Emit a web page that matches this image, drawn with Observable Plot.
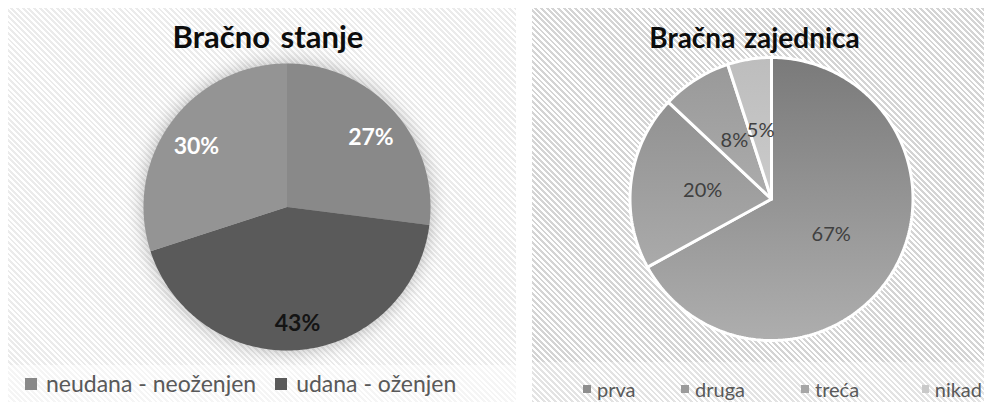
<!DOCTYPE html>
<html>
<head>
<meta charset="utf-8">
<script src="https://cdn.jsdelivr.net/npm/d3@7"></script>
<script src="https://cdn.jsdelivr.net/npm/@observablehq/plot@0.6"></script>
<style>
html,body{margin:0;padding:0;background:#fff;width:984px;height:402px;overflow:hidden;font-family:Lato,"Open Sans",sans-serif;}
.panel{position:absolute;overflow:hidden;}
#p1{left:8px;top:8px;width:508px;height:394px;background:repeating-linear-gradient(45deg,#ebebeb 0 2px,#fff 2px 4px);}
#p2{left:532px;top:8px;width:452px;height:394px;background:repeating-linear-gradient(45deg,#d4d4d4 0 2px,#fff 2px 4px);}
#p1 .legbg{position:absolute;left:0;right:0;top:357px;bottom:0;background:repeating-linear-gradient(45deg,#f5f5f5 0 2px,#fff 2px 4px);}
#p2 .legbg{position:absolute;left:0;right:0;top:354px;bottom:0;background:repeating-linear-gradient(45deg,#e3e3e3 0 2px,#fff 2px 4px);}
.panel svg{position:absolute;left:0;top:0;}
.title{position:absolute;text-align:center;font-weight:bold;color:#0d0d0d;white-space:nowrap;}
#p1 .title{font-size:31px;line-height:31px;word-spacing:3px;}
#p2 .title{font-size:28px;line-height:28px;word-spacing:2px;}
.legend{position:absolute;display:flex;align-items:center;white-space:nowrap;color:#595959;}
.legend .item{display:flex;align-items:center;}
.legend .sw{display:inline-block;}
#p1 .legend{font-size:23px;line-height:23px;left:17px;top:364px;gap:19px;}
#p1 .sw{width:12px;height:12px;margin-right:9px;}
#p2 .legend{font-size:20px;line-height:20px;left:51px;top:371px;}
#p2 .sw{width:8px;height:8px;margin-right:6px;}
#p1 svg g[aria-label="line"]{filter:drop-shadow(0 0 9px rgba(0,0,0,0.28));}
</style>
</head>
<body>
<div class="panel" id="p1"><div class="legbg"></div></div>
<div class="panel" id="p2"><div class="legbg"></div></div>
<script>
// ---- Data ----
const title1 = "Bračno stanje";
const cats1 = ["neudana - neoženjen", "udana - oženjen", "ostalo"];
const vals1 = [27, 43, 30];
const legendShown1 = ["neudana - neoženjen", "udana - oženjen"];

const title2 = "Bračna zajednica";
const cats2 = ["prva", "druga", "treća", "nikad"];
const vals2 = [67, 20, 8, 5];

// ---- Styles ----
const colors1 = ["#898989", "#5a5a5a", "#949494"];
const labelColors1 = ["#ffffff", "#141414", "#ffffff"];
const gradTop2 = ["#7a7a7a", "#8b8b8b", "#989898", "#bdbdbd"];
const gradBottom2 = ["#aeaeae", "#b5b5b5", "#c0c0c0", "#d9d9d9"];
const swatch2 = ["#8e8e8e", "#9b9b9b", "#a6a6a6", "#c9c9c9"];

function pieData(cats, vals, labelFrac) {
  const arcs = d3.pie().sort(null).value(d => d)(vals);
  const pts = [], labels = [];
  arcs.forEach((a, i) => {
    pts.push({cat: cats[i], x: 0, y: 0});
    const n = Math.max(2, Math.ceil((a.endAngle - a.startAngle) / (Math.PI / 180)));
    for (let k = 0; k <= n; k++) {
      const t = a.startAngle + (a.endAngle - a.startAngle) * k / n;
      pts.push({cat: cats[i], x: Math.sin(t), y: Math.cos(t)});
    }
    pts.push({cat: cats[i], x: 0, y: 0});
    const m = (a.startAngle + a.endAngle) / 2;
    labels.push({cat: cats[i], i, x: Math.sin(m) * labelFrac, y: Math.cos(m) * labelFrac, label: vals[i] + "%"});
  });
  return {pts, labels};
}

function addTitle(panel, text, center, top) {
  const t = document.createElement("div");
  t.className = "title";
  t.textContent = text;
  t.style.left = "0px";
  t.style.width = (center * 2) + "px";
  t.style.top = top + "px";
  panel.appendChild(t);
}

function addLegend(panel, names, cols) {
  const lg = document.createElement("div");
  lg.className = "legend";
  names.forEach((n, i) => {
    const it = document.createElement("div");
    it.className = "item";
    const sw = document.createElement("span");
    sw.className = "sw";
    sw.style.background = cols[i];
    const tx = document.createElement("span");
    tx.textContent = n;
    it.appendChild(sw); it.appendChild(tx);
    lg.appendChild(it);
  });
  panel.appendChild(lg);
  return lg;
}

// ---- Chart 1 ----
{
  const panel = document.getElementById("p1");
  const cx = 278.5, cy = 198.5, r = 143.5;
  const {pts, labels} = pieData(cats1, vals1, 0.78);
  const svg = Plot.plot({
    width: 508, height: 394, margin: 0,
    style: {background: "transparent", overflow: "visible"},
    x: {domain: [-1, 1], range: [cx - r, cx + r], axis: null},
    y: {domain: [-1, 1], range: [cy + r, cy - r], axis: null},
    color: {domain: cats1, range: colors1},
    marks: [
      Plot.line(pts, {x: "x", y: "y", z: "cat", fill: "cat", stroke: null, curve: "linear"}),
      Plot.text(labels, {x: "x", y: "y", dy: 5, text: "label", fill: d => labelColors1[d.i], fontSize: 23, fontWeight: "bold", fontFamily: "Lato"})
    ]
  });
  panel.appendChild(svg);
  addTitle(panel, title1, 260, 13);
  addLegend(panel, legendShown1, colors1);
}

// ---- Chart 2 ----
{
  const panel = document.getElementById("p2");
  const cx = 239, cy = 190.5, r = 141.5;
  const {pts, labels} = pieData(cats2, vals2, 0.49);
  const gradIds = cats2.map((c, i) => "g2_" + i);
  const svg = Plot.plot({
    width: 452, height: 394, margin: 0,
    style: {background: "transparent", overflow: "visible"},
    x: {domain: [-1, 1], range: [cx - r, cx + r], axis: null},
    y: {domain: [-1, 1], range: [cy + r, cy - r], axis: null},
    color: {domain: cats2, range: gradIds.map(id => `url(#${id})`)},
    marks: [
      Plot.line(pts, {x: "x", y: "y", z: "cat", fill: "cat", stroke: "white", strokeWidth: 3, strokeLinejoin: "miter", curve: "linear"}),
      Plot.text(labels, {x: "x", y: "y", text: "label", fill: "#404040", fontSize: 20, fontFamily: "Lato"})
    ]
  });
  const defs = d3.select(svg).insert("defs", ":first-child");
  gradIds.forEach((id, i) => {
    const g = defs.append("linearGradient").attr("id", id)
      .attr("gradientUnits", "userSpaceOnUse")
      .attr("x1", 0).attr("x2", 0).attr("y1", cy - r).attr("y2", cy + r);
    g.append("stop").attr("offset", "0").attr("stop-color", gradTop2[i]);
    g.append("stop").attr("offset", "1").attr("stop-color", gradBottom2[i]);
  });
  panel.appendChild(svg);
  addTitle(panel, title2, 222.5, 15);
  const lg = addLegend(panel, cats2, swatch2);
  const widths = [98, 120, 121, 60];
  Array.from(lg.children).forEach((it, i) => { it.style.width = widths[i] + "px"; });
}
</script>
</body>
</html>
